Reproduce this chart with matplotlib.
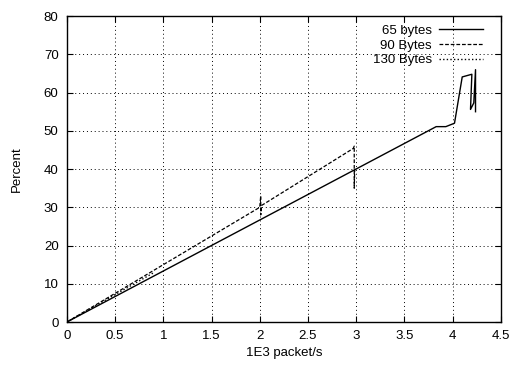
import numpy as np
import matplotlib
matplotlib.use("Agg")
from matplotlib import pyplot as plt

# series
x65 = [0.0, 3.83, 3.93, 4.02, 4.10, 4.20, 4.186, 4.22, 4.238, 4.238]
y65 = [0.0, 51.1, 51.1, 52.0, 64.1, 64.8, 55.6, 57.3, 66.0, 55.0]
x90 = [0.0, 2.00, 2.01, 2.01, 2.02, 2.97, 2.98, 2.98, 2.985]
y90 = [0.0, 30.0, 33.0, 28.0, 30.5, 45.4, 46.0, 35.0, 40.0]
x130 = [0.0, 0.9]
y130 = [0.0, 12.9]

xticks = [0, 0.5, 1, 1.5, 2, 2.5, 3, 3.5, 4, 4.5]
xticklabels = ["0", "0.5", "1", "1.5", "2", "2.5", "3", "3.5", "4", "4.5"]
yticks = [0, 10, 20, 30, 40, 50, 60, 70, 80]

plt.rcParams["font.family"] = ["Liberation Sans", "DejaVu Sans"]
plt.rcParams["font.size"] = 9.5

fig = plt.figure(figsize=(5.11, 3.67), dpi=100)
ax = fig.add_axes([0.131, 0.1226, 0.849, 0.8334])

ax.plot(x65, y65, color="black", lw=1.0, label="65 bytes")
ax.plot(x90, y90, color="black", lw=0.9, ls=(0, (3, 1.5)), label="90 Bytes")
ax.plot(x130, y130, color="black", lw=1.0, ls=(0, (1, 1.6)), label="130 Bytes")

ax.set_xlim(0, 4.5)
ax.set_ylim(0, 80)
ax.set_xticks(xticks)
ax.set_xticklabels(xticklabels)
ax.set_yticks(yticks)
ax.tick_params(direction="in", length=4, width=0.8, top=True, right=True, pad=6)
ax.grid(True, color="black", ls=(0, (1, 3)), lw=0.7)
for s in ax.spines.values():
    s.set_linewidth(1.0)

ax.set_xlabel("1E3 packet/s", labelpad=3)
ax.set_ylabel("Percent", labelpad=15)

leg = ax.legend(loc="upper right", bbox_to_anchor=(0.9585, 0.973), frameon=False,
                markerfirst=False, handlelength=3.3, handletextpad=0.55,
                labelspacing=0.2, borderaxespad=0, borderpad=0)

fig.savefig("out.png", dpi=100)
